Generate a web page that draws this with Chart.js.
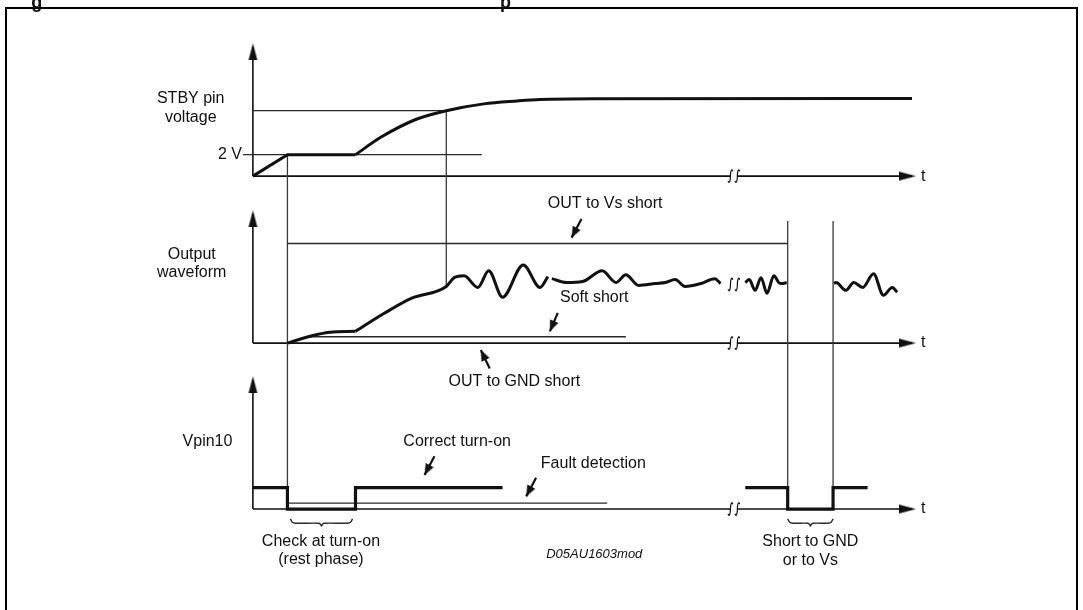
<!DOCTYPE html>
<html>
<head>
<meta charset="utf-8">
<script src="https://cdn.jsdelivr.net/npm/chart.js@4.4.1/dist/chart.umd.min.js"></script>
<style>
  html, body { margin: 0; padding: 0; background: #fff; }
  #wrap { position: relative; width: 1083px; height: 610px; overflow: hidden; }
  #frame { position: absolute; left: 5px; top: 7px; width: 1069px; height: 700px; border: 2.5px solid #000; }
  #diagram { position: absolute; left: 0; top: 0; }
</style>
</head>
<body>
<div id="wrap">
  <div id="frame"></div>
  <canvas id="diagram" width="1083" height="610"></canvas>
</div>
<script>
// Turn-on diagnostic timing diagram, three stacked panels sharing one time axis.
// t = 0 on the vertical axes; every level is measured up from its own panel's t-axis.

// STBY pin voltage
const stbyRampT = [0, 35, 104];
const stbyRampV = [0, 22, 22];
const stbyRiseT = [104, 130, 165, 196, 234, 268, 291, 350, 668];
const stbyRiseV = [22, 40, 58, 67, 74, 77, 78.5, 79.3, 79.5];
const stbyLevelT = [0, 196];   // thin level reached when the check starts
const stbyLevelV = 67;
const twoVoltT = [-10, 232];
const twoVoltV = 22;

// Output waveform
const outRiseT = [35, 58, 78, 104];
const outRiseV = [0, 7, 11, 12];
const outWave1T = [104, 134, 161, 196, 204, 214, 228, 239, 253, 274, 291, 299];
const outWave1V = [12, 31, 46, 58, 67, 69, 57, 74, 47, 80, 57, 68];
const outWave2T = [303, 318, 334, 354, 368, 378, 391, 408, 418, 428, 438, 454, 468, 474];
const outWave2V = [66, 62, 63, 74, 62, 70, 59, 61, 62, 65, 58, 61, 66, 61];
const outWave3T = [499, 503, 509, 515, 521, 528, 533, 536, 541];
const outWave3V = [62, 65, 54, 67, 51, 69, 62, 61, 62];
const outWave4T = [589, 591, 601, 609, 618, 629, 639, 648, 653];
const outWave4V = [61, 62, 54, 62, 57, 71, 49, 57, 52];
const vsShortT = [35, 542];
const vsShortV = 102;
const softShortT = [56, 378];
const softShortV = 6.5;

// Vpin10
const pinStartT = [0, 35, 35, 104, 104, 253];
const pinShortT = [499, 542, 542, 588, 588, 623];
const pinV = [22, 22, 0, 0, 22, 22];
const faultT = [35, 359];
const faultV = 6;

// vertical guides running between panels: time, [axis, level] at the top, [axis, level] at the bottom
const guideT = [35, 196, 542, 588];
const guideTop = [['yStby', 22], ['yStby', 67], ['yOut', 125], ['yOut', 125]];
const guideBottom = [['yPin', 0], ['yOut', 58], ['yPin', 0], ['yPin', 0]];

const axisTipV = 136;
const axisEndT = 672;
const breakT = [484, 491];
const waveBreakV = 60;
const braceSpans = [[38, 101], [542, 588]];

// callout arrows: tail -> head
const calloutAxis = ['yOut', 'yOut', 'yOut', 'yPin', 'yPin'];
const calloutTail = [[333, 127], [309, 31], [240, -26], [184, 54], [287, 32]];
const calloutHead = [[323, 108], [301, 12], [231, -7], [174, 35], [277, 13]];

// labels: [t, level, text, align]
const stbyLabels = [[-63, 79, 'STBY pin'], [-63, 60, 'voltage'], [-11, 22, '2 V', 'right'], [677, 0, 't', 'left']];
const outLabels = [[357, 143, 'OUT to Vs short'], [-62, 91, 'Output'], [-62, 72, 'waveform'],
  [346, 47, 'Soft short'], [265, -39, 'OUT to GND short'], [677, 0, 't', 'left']];
const pinLabels = [[-46, 69, 'Vpin10'], [207, 69, 'Correct turn-on'], [345, 47, 'Fault detection'],
  [69, -33, 'Check at turn-on'], [69, -52, '(rest phase)'], [565, -33, 'Short to GND'],
  [565, -53, 'or to Vs'], [677, 0, 't', 'left']];
const noteLabels = [[346, -46, 'D05AU1603mod']];
const titleBits = [[-219, 172.5, 'g'], [256, 172.5, 'p']];   // descenders of the cropped caption

// ---- layout ----
const T0 = 249;                                          // pixel column of the vertical axes
const PANEL_BASE = { yStby: 173, yOut: 344, yPin: 514 }; // pixel row of each t-axis
const H = 610;
const INK = '#111';
const THIN = '#2a2a2a';
const FONT = '"Liberation Sans", Arial, Helvetica, sans-serif';

const pts = (ts, vs) => ts.map((t, i) => ({ x: t, y: Array.isArray(vs) ? vs[i] : vs }));
const toAxis = (from, v, to) => v + PANEL_BASE[to] - PANEL_BASE[from];

function headImage(len, half) {
  const c = document.createElement('canvas');
  c.width = half * 2 + 2;
  c.height = len * 2;
  const g = c.getContext('2d');
  const cx = c.width / 2;
  g.fillStyle = INK;
  g.beginPath();
  g.moveTo(cx, len);            // tip sits on the image centre
  g.lineTo(cx - half, len * 2);
  g.lineTo(cx + half, len * 2);
  g.closePath();
  g.fill();
  return c;
}
const axisHead = headImage(17, 4.5);
const calloutHeadImg = headImage(11, 4.5);

function line(data, yAxisID, width, extra) {
  return {
    data, yAxisID,
    borderColor: INK, borderWidth: width,
    pointRadius: 0, fill: false, tension: 0,
    borderCapStyle: 'butt', borderJoinStyle: 'miter',
    ...extra,
  };
}

function breakMarks(ts, v) {
  const out = [];
  for (const t of ts) {
    out.push({ x: t + 2.5, y: v + 5 }, { x: t + 1.4, y: v + 6.5 }, { x: t + 0.3, y: v + 4 },
      { x: t - 0.3, y: v - 4 }, { x: t - 1.4, y: v - 6.5 }, { x: t - 2.5, y: v - 5 },
      { x: t, y: null });
  }
  return out;
}

function brace([t0, t1]) {
  const m = (t0 + t1) / 2;
  return [[t0, -10], [t0 + 2, -13.5], [t0 + 5, -14.5], [m - 3, -14.5], [m - 1, -15.5], [m, -17.5],
    [m + 1, -15.5], [m + 3, -14.5], [t1 - 5, -14.5], [t1 - 2, -13.5], [t1, -10]].map(([x, y]) => ({ x, y }));
}

const datasets = [];

// arrow heads first so they sit on top
for (const id of Object.keys(PANEL_BASE)) {
  datasets.push({
    data: [{ x: 0, y: axisTipV }, { x: axisEndT, y: 0 }], yAxisID: id,
    showLine: false, pointStyle: axisHead, pointRadius: 5, pointRotation: [0, 90],
  });
}
calloutTail.forEach(([tt, tv], i) => {
  const [ht, hv] = calloutHead[i];
  const rot = Math.atan2(ht - tt, hv - tv) * 180 / Math.PI;
  datasets.push(line([{ x: tt, y: tv }, { x: ht, y: hv }], calloutAxis[i], 2.2, {
    pointStyle: calloutHeadImg, pointRadius: [0, 5], pointRotation: rot,
  }));
});

// signals
datasets.push(line(pts(stbyRampT, stbyRampV), 'yStby', 3));
datasets.push(line(pts(stbyRiseT, stbyRiseV), 'yStby', 3, { cubicInterpolationMode: 'monotone' }));
datasets.push(line(pts(outRiseT, outRiseV), 'yOut', 3, { cubicInterpolationMode: 'monotone' }));
for (const [ts, vs] of [[outWave1T, outWave1V], [outWave2T, outWave2V], [outWave3T, outWave3V], [outWave4T, outWave4V]]) {
  datasets.push(line(pts(ts, vs), 'yOut', 3, { cubicInterpolationMode: 'monotone' }));
}
datasets.push(line(pts(pinStartT, pinV), 'yPin', 3.2));
datasets.push(line(pts(pinShortT, pinV), 'yPin', 3.2));

// thin reference levels
datasets.push(line(pts(stbyLevelT, stbyLevelV), 'yStby', 1.3, { borderColor: THIN }));
datasets.push(line(pts(twoVoltT, twoVoltV), 'yStby', 1.3, { borderColor: THIN }));
datasets.push(line(pts(vsShortT, vsShortV), 'yOut', 1.3, { borderColor: THIN }));
datasets.push(line(pts(softShortT, softShortV), 'yOut', 1.3, { borderColor: THIN }));
datasets.push(line(pts(faultT, faultV), 'yPin', 1.3, { borderColor: THIN }));

// guides between panels
guideT.forEach((t, i) => {
  const [ta, tv] = guideTop[i];
  const [ba, bv] = guideBottom[i];
  datasets.push(line([{ x: t, y: toAxis(ta, tv, ba) }, { x: t, y: bv }], ba, 1.3, { borderColor: '#3a3a3a' }));
});

// axes with break marks
for (const id of Object.keys(PANEL_BASE)) {
  datasets.push(line([{ x: 0, y: 0 }, { x: 0, y: axisTipV - 4 }], id, 1.6));
  datasets.push(line([{ x: 0, y: 0 }, { x: breakT[0], y: 0 }, { x: (breakT[0] + breakT[1]) / 2, y: null },
    { x: breakT[1], y: 0 }, { x: axisEndT - 4, y: 0 }], id, 1.6));
  datasets.push(line(breakMarks(breakT, 0), id, 1.2, { tension: 0.4 }));
}
datasets.push(line(breakMarks(breakT, waveBreakV), 'yOut', 1.2, { tension: 0.4 }));

// braces under the low Vpin10 intervals
for (const span of braceSpans) datasets.push(line(brace(span), 'yPin', 1.4, { tension: 0.35, borderColor: THIN }));

const textPlugin = {
  id: 'diagramText',
  afterDatasetsDraw(chart) {
    const { ctx, scales } = chart;
    const draw = (axis, rows, font, baseline) => {
      ctx.font = font;
      ctx.textBaseline = baseline;
      for (const [t, v, text, align] of rows) {
        ctx.textAlign = align || 'center';
        ctx.fillText(text, scales.x.getPixelForValue(t), scales[axis].getPixelForValue(v));
      }
    };
    ctx.save();
    ctx.fillStyle = INK;
    draw('yStby', stbyLabels, `16px ${FONT}`, 'middle');
    draw('yOut', outLabels, `16px ${FONT}`, 'middle');
    draw('yPin', pinLabels, `16px ${FONT}`, 'middle');
    draw('yPin', noteLabels, `italic 13px ${FONT}`, 'middle');
    draw('yStby', titleBits, `bold 18px ${FONT}`, 'alphabetic');
    ctx.restore();
  },
};

const scales = { x: { type: 'linear', min: -T0, max: 1083 - T0, display: false } };
for (const [id, base] of Object.entries(PANEL_BASE)) {
  scales[id] = { type: 'linear', min: base - H, max: base, display: false };
}

new Chart(document.getElementById('diagram'), {
  type: 'line',
  data: { datasets },
  options: {
    responsive: false,
    animation: false,
    events: [],
    layout: { padding: 0 },
    plugins: { legend: { display: false }, tooltip: { enabled: false } },
    scales,
  },
  plugins: [textPlugin],
});
</script>
</body>
</html>
